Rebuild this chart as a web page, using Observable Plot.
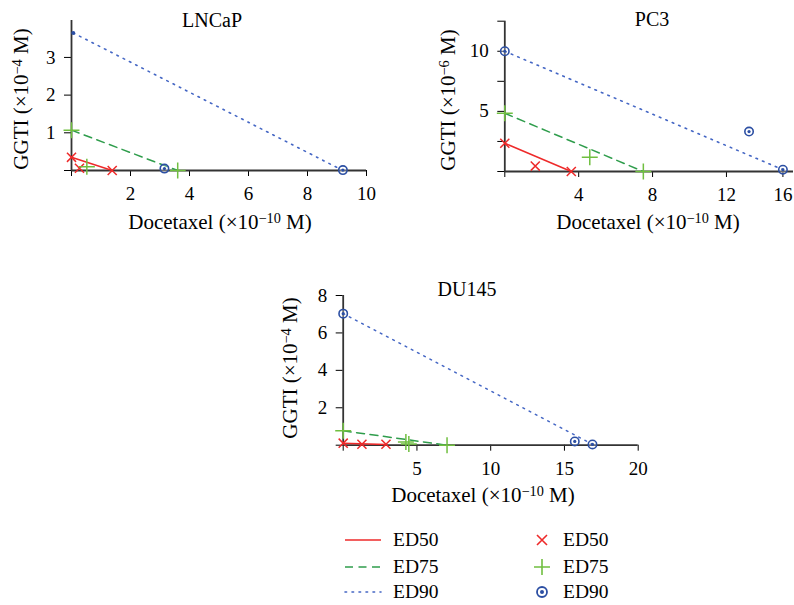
<!DOCTYPE html>
<html>
<head>
<meta charset="utf-8">
<script src="https://cdn.jsdelivr.net/npm/d3@7"></script>
<script src="https://cdn.jsdelivr.net/npm/@observablehq/plot@0.6"></script>
<style>
  html, body { margin: 0; padding: 0; background: #fff; }
  #root { position: relative; width: 794px; height: 605px; font-family: "Liberation Serif", "DejaVu Serif", serif; color: #000; overflow: hidden; }
  #root svg, #root svg text { font-family: "Liberation Serif", "DejaVu Serif", serif !important; }
  .abs { position: absolute; white-space: nowrap; line-height: 1; font-family: "Liberation Serif", "DejaVu Serif", serif; }
  .c { transform: translate(-50%, -50%); }
  .rot { transform: translate(-50%, -50%) rotate(-90deg); }
  .title { font-size: 20px; }
  .lab { font-size: 21px; }
  sup { font-size: 0.68em; position: relative; top: -0.45em; vertical-align: baseline; line-height: 0; }
  .leg { font-size: 19.5px; display: flex; align-items: center; }
  svg { overflow: visible; }
</style>
</head>
<body>
<div id="root"></div>
<script>
// ---------- data ----------
const seriesNames = ["ED50", "ED75", "ED90"];

// LNCaP  (x: Docetaxel ×1e-10 M, y: GGTI ×1e-4 M)
const lncapED50Line = [[0, 0.35], [1.38, 0]];
const lncapED75Line = [[0, 1.07], [3.6, 0]];
const lncapED90Line = [[0.06, 3.65], [9.2, 0]];
const lncapED50Pts = [[0, 0.35], [0.27, 0.06], [1.38, 0]];
const lncapED75Pts = [[0, 1.07], [0.52, 0.1], [3.6, 0]];
const lncapED90Pts = [[3.15, 0.05], [9.2, 0.01]];
const lncapED90Apex = [[0.06, 3.65]];
const lncapXTicks = [0, 2, 4, 6, 8, 10];
const lncapYTicks = [0, 1, 2, 3];

// PC3  (x: Docetaxel ×1e-10 M, y: GGTI ×1e-6 M)
const pc3ED50Line = [[0, 2.35], [3.6, 0]];
const pc3ED75Line = [[0, 4.84], [7.5, 0]];
const pc3ED90Line = [[0, 10], [16, 0.15]];
const pc3ED50Pts = [[0, 2.35], [1.65, 0.45], [3.6, 0]];
const pc3ED75Pts = [[0, 4.84], [4.6, 1.19], [7.5, 0]];
const pc3ED90Pts = [[0, 10], [13.6, 3.32], [16, 0.15]];
const pc3XTicks = [0, 4, 8, 12, 16];
const pc3XBreak = 12;          // the original axis is compressed beyond 12
const pc3XCompress = 0.764;
const pc3XMax = 16.75;
const pc3YTicks = [0, 2.5, 5, 7.5, 10, 12.5];
const pc3YLabels = [5, 10];

// DU145  (x: Docetaxel ×1e-10 M, y: GGTI ×1e-4 M)
const du145ED50Line = [[0, 0.1], [2.9, 0.04]];
const du145ED75Line = [[0, 0.77], [7.04, 0]];
const du145ED90Line = [[0, 7.03], [16.9, 0.05]];
const du145ED50Pts = [[0, 0.11], [1.27, 0.05], [2.9, 0.05]];
const du145ED75Pts = [[0, 0.77], [4.25, 0.17], [4.45, 0.06], [7.04, 0]];
const du145ED90Pts = [[0, 7.03], [15.7, 0.2], [16.9, 0.04]];
const du145XTicks = [0, 5, 10, 15, 20];
const du145YTicks = [0, 2, 4, 6, 8];

// ---------- styles ----------
const RED = "#ee2a2a", GREEN = "#2f9d4c", LGREEN = "#70bf40", BLUE = "#2c4fa3", BLUEL = "#4466c4";
const FONT = "Liberation Serif, DejaVu Serif, serif";
const X = d => d[0], Y = d => d[1];
const plainFmt = d => d === 0 ? "" : String(d);

function marks(p) {
  const m = [
    Plot.axisX({ticks: p.xTicks, tickSize: 6, tickPadding: 10, tickFormat: p.xFormat || plainFmt, label: null, stroke: "#000"}),
    Plot.axisY({ticks: p.yTicks, tickSize: 7, tickPadding: 9, tickFormat: p.yFormat || plainFmt, label: null, stroke: "#000"}),
    Plot.ruleY([0], {stroke: "#333", strokeWidth: 1.8}),
    Plot.ruleX([0], {stroke: "#333", strokeWidth: 1.8}),
    Plot.line(p.l90, {x: X, y: Y, stroke: BLUEL, strokeWidth: 1.6, strokeDasharray: "1.6,5.4", strokeLinecap: "round"}),
    Plot.line(p.l75, {x: X, y: Y, stroke: GREEN, strokeWidth: 1.5, strokeDasharray: "8,5.5"}),
    Plot.line(p.l50, {x: X, y: Y, stroke: RED, strokeWidth: 1.5}),
    Plot.dot(p.p90, {x: X, y: Y, r: 4.2, stroke: BLUE, fill: "white", fillOpacity: 0.3, strokeWidth: 1.6}),
    Plot.dot(p.p90, {x: X, y: Y, r: 1.6, fill: BLUE, stroke: "none"}),
    Plot.dot(p.p50, {x: X, y: Y, r: 4.2, symbol: "times", stroke: RED, strokeWidth: 1.5}),
    Plot.dot(p.p75, {x: X, y: Y, r: 5.2, symbol: "plus", stroke: LGREEN, strokeWidth: 1.5})
  ];
  if (p.apex) m.push(Plot.dot(p.apex, {x: X, y: Y, r: 2, fill: BLUE, stroke: "none"}));
  return m;
}

function panel(p) {
  return Plot.plot({
    width: p.width, height: p.height,
    marginLeft: p.ml, marginRight: p.mr, marginTop: p.mt, marginBottom: p.mb,
    style: {fontFamily: FONT, fontSize: "19px", color: "#000", background: "transparent", overflow: "visible"},
    x: p.x, y: p.y,
    marks: marks(p)
  });
}

const root = document.getElementById("root");
function place(el, left, top) {
  const d = document.createElement("div");
  d.className = "abs"; d.style.left = left + "px"; d.style.top = top + "px";
  d.appendChild(el); root.appendChild(d);
}
function text(html, cls, cx, cy) {
  const d = document.createElement("div");
  d.className = "abs " + cls; d.style.left = cx + "px"; d.style.top = cy + "px";
  d.innerHTML = html; root.appendChild(d);
}

// LNCaP
place(panel({
  width: 400, height: 240, ml: 71, mr: 34, mt: 20, mb: 70,
  x: {domain: [0, 10]}, y: {domain: [0, 3.98]},
  xTicks: lncapXTicks, yTicks: lncapYTicks,
  l50: lncapED50Line, l75: lncapED75Line, l90: lncapED90Line,
  p50: lncapED50Pts, p75: lncapED75Pts, p90: lncapED90Pts, apex: lncapED90Apex
}), 0, 0);

// PC3 (x axis compressed beyond 12, as in the original)
const pc3Warp = d => d <= pc3XBreak ? d : pc3XBreak + (d - pc3XBreak) * pc3XCompress;
const pc3Unwarp = d => d <= pc3XBreak ? d : pc3XBreak + (d - pc3XBreak) / pc3XCompress;
place(panel({
  width: 394, height: 240, ml: 104.3, mr: 1, mt: 20.7, mb: 69,
  x: {domain: [0, pc3Warp(pc3XMax)], transform: pc3Warp}, y: {domain: [0, 12.5]},
  xTicks: pc3XTicks.map(pc3Warp), xFormat: d => plainFmt(Math.round(pc3Unwarp(d))),
  yTicks: pc3YTicks, yFormat: d => pc3YLabels.includes(d) ? String(d) : "",
  l50: pc3ED50Line, l75: pc3ED75Line, l90: pc3ED90Line,
  p50: pc3ED50Pts, p75: pc3ED75Pts, p90: pc3ED90Pts
}), 400, 0);

// DU145
place(panel({
  width: 420, height: 240, ml: 92.7, mr: 32.3, mt: 25, mb: 65.3,
  x: {domain: [0, 20]}, y: {domain: [0, 8]},
  xTicks: du145XTicks, yTicks: du145YTicks,
  l50: du145ED50Line, l75: du145ED75Line, l90: du145ED90Line,
  p50: du145ED50Pts, p75: du145ED75Pts, p90: du145ED90Pts
}), 250, 270);

// titles and axis labels
const xLab = "Docetaxel (×10<sup>−10</sup> M)";
text("LNCaP", "title c", 212, 20);
text("PC3", "title c", 652, 19);
text("DU145", "title c", 467, 289);
text(xLab, "lab c", 220, 222);
text(xLab, "lab c", 648, 222);
text(xLab, "lab c", 483, 495);
text("GGTI (×10<sup>−4</sup> M)", "lab rot", 21, 99);
text("GGTI (×10<sup>−6</sup> M)", "lab rot", 448, 100);
text("GGTI (×10<sup>−4</sup> M)", "lab rot", 290, 368);

// legend
const lineStyles = [
  {stroke: RED, dash: null},
  {stroke: GREEN, dash: "8,5.5"},
  {stroke: BLUEL, dash: "1.6,5.4"}
];
const rowsY = [540, 566.5, 592];
seriesNames.forEach((name, i) => {
  const s = lineStyles[i];
  const d = document.createElement("div");
  d.className = "abs leg"; d.style.left = "345px"; d.style.top = (rowsY[i] - 11) + "px"; d.style.height = "22px";
  d.innerHTML = `<svg width="36" height="22"><line x1="0" x2="36" y1="11" y2="11" stroke="${s.stroke}" stroke-width="1.6" ${s.dash ? `stroke-dasharray="${s.dash}"` : ""} stroke-linecap="${i === 2 ? "round" : "butt"}"/></svg><span style="margin-left:12px">${name}</span>`;
  root.appendChild(d);
  const e = document.createElement("div");
  e.className = "abs leg"; e.style.left = "532px"; e.style.top = (rowsY[i] - 11) + "px"; e.style.height = "22px";
  let sym;
  if (i === 0) sym = `<path d="M5,5L15,15M15,5L5,15" stroke="${RED}" stroke-width="1.6" transform="translate(0,1)"/>`;
  else if (i === 1) sym = `<path d="M10,3V19M2,11H18" stroke="${LGREEN}" stroke-width="1.6"/>`;
  else sym = `<circle cx="10" cy="11" r="5" fill="none" stroke="${BLUE}" stroke-width="1.8"/><circle cx="10" cy="11" r="2" fill="${BLUE}"/>`;
  e.innerHTML = `<svg width="20" height="22">${sym}</svg><span style="margin-left:11px">${name}</span>`;
  root.appendChild(e);
});
</script>
</body>
</html>
